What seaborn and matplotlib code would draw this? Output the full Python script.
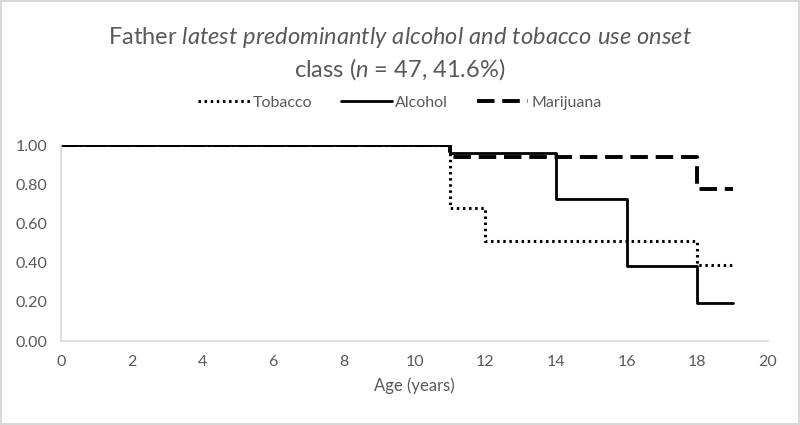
import seaborn as sns
import pandas as pd
import matplotlib.pyplot as plt

# step values
tob_age = [0, 11, 12, 18, 19]
tob_surv = [1.00, 0.679, 0.51, 0.388, 0.388]
alc_age = [0, 11, 14, 16, 18, 19]
alc_surv = [1.00, 0.959, 0.724, 0.383, 0.194, 0.194]
mar_age = [0, 11, 18, 19]
mar_surv = [1.00, 0.939, 0.776, 0.776]

series = ['Tobacco', 'Alcohol', 'Marijuana']

sns.set_style('white')
plt.rcParams['font.family'] = ['Lato', 'DejaVu Sans']
plt.rcParams['mathtext.fontset'] = 'custom'
plt.rcParams['mathtext.rm'] = 'Lato'
plt.rcParams['mathtext.it'] = 'Lato:italic'
grey = '#595959'

fig = plt.figure(figsize=(8, 4.25), dpi=100)
fig.patch.set_edgecolor('#d9d9d9')
fig.patch.set_linewidth(1.5)
ax = fig.add_axes([0.07625, 0.1976, 0.88375, 0.4612])

styles = {
    'Tobacco': dict(linestyle=(0, (0.8, 1.2)), linewidth=2.2),
    'Alcohol': dict(linestyle='-', linewidth=2.0),
    'Marijuana': dict(linestyle=(0, (4.5, 2)), linewidth=2.8),
}
data = {'Tobacco': (tob_age, tob_surv), 'Alcohol': (alc_age, alc_surv),
        'Marijuana': (mar_age, mar_surv)}

for name in series:
    x, y = data[name]
    df = pd.DataFrame({'age': x, 'surv': y})
    sns.lineplot(data=df, x='age', y='surv', ax=ax, color='black',
                 drawstyle='steps-post', label=name, **styles[name])

ax.set_xlim(0, 20)
ax.set_ylim(0, 1.0)
ax.set_xticks(range(0, 21, 2))
ax.set_yticks([0, 0.2, 0.4, 0.6, 0.8, 1.0])
ax.set_yticklabels(['%.2f' % v for v in [0, 0.2, 0.4, 0.6, 0.8, 1.0]])
ax.tick_params(colors=grey, labelsize=11.5, length=0, pad=10)
for s in ['top', 'right']:
    ax.spines[s].set_visible(False)
for s in ['left', 'bottom']:
    ax.spines[s].set_color('#d9d9d9')
    ax.spines[s].set_linewidth(1.2)
ax.set_xlabel('Age (years)', color=grey, fontsize=12, labelpad=6)
ax.set_ylabel('')

fig.text(0.5, 0.912, r'Father $\it{latest\ predominantly\ alcohol\ and\ tobacco\ use\ onset}$',
         ha='center', va='center', fontsize=17, color=grey)
fig.text(0.5, 0.838, r'class ($\it{n}$ = 47, 41.6%)',
         ha='center', va='center', fontsize=17, color=grey)

leg = ax.legend(loc='center', bbox_to_anchor=(0.5, 0.758), bbox_transform=fig.transFigure,
                ncol=3, frameon=False, fontsize=11.5, handlelength=3.2,
                columnspacing=1.8, handletextpad=0.2)
for t in leg.get_texts():
    t.set_color(grey)

plt.savefig('out.png', dpi=100)
